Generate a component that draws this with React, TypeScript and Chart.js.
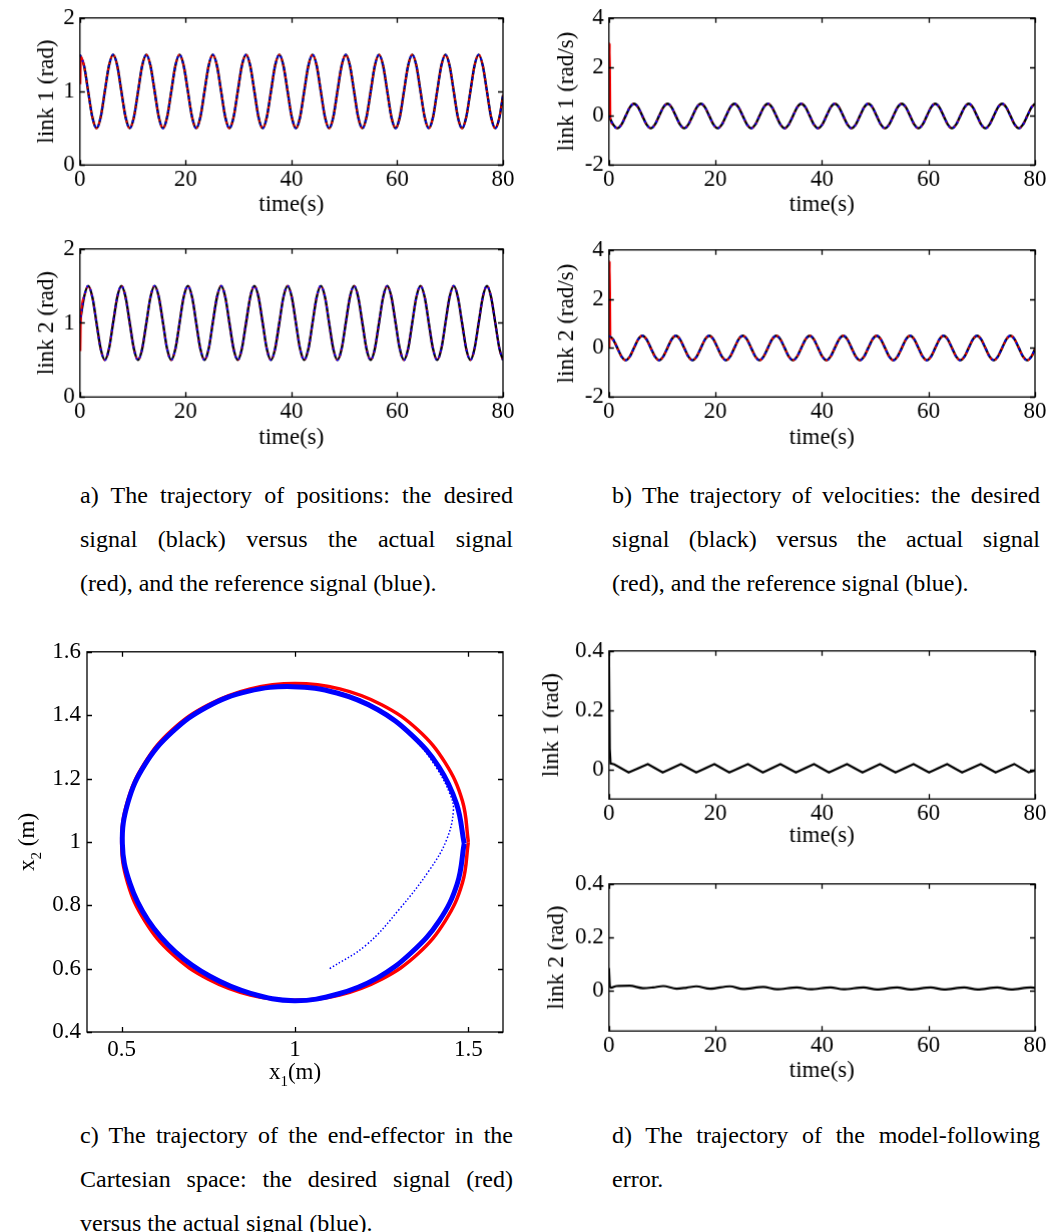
import React, { useEffect, useRef } from "react";
import { Chart, registerables } from "chart.js";

Chart.register(...registerables);

const FONT = '"Liberation Serif", "Times New Roman", Times, serif';
const FS = 23;
const LH = FS * 1.2;

// ---------- time-domain data (s) ----------
const tGrid = [
  0, 0.79, 1.57, 2.36, 3.14, 3.93, 4.71, 5.5,
  6.28, 7.07, 7.85, 8.64, 9.42, 10.21, 11.0, 11.78,
  12.57, 13.35, 14.14, 14.92, 15.71, 16.49, 17.28, 18.06,
  18.85, 19.63, 20.42, 21.21, 21.99, 22.78, 23.56, 24.35,
  25.13, 25.92, 26.7, 27.49, 28.27, 29.06, 29.85, 30.63,
  31.42, 32.2, 32.99, 33.77, 34.56, 35.34, 36.13, 36.91,
  37.7, 38.48, 39.27, 40.06, 40.84, 41.63, 42.41, 43.2,
  43.98, 44.77, 45.55, 46.34, 47.12, 47.91, 48.69, 49.48,
  50.27, 51.05, 51.84, 52.62, 53.41, 54.19, 54.98, 55.76,
  56.55, 57.33, 58.12, 58.9, 59.69, 60.48, 61.26, 62.05,
  62.83, 63.62, 64.4, 65.19, 65.97, 66.76, 67.54, 68.33,
  69.12, 69.9, 70.69, 71.47, 72.26, 73.04, 73.83, 74.61,
  75.4, 76.18, 76.97, 77.75, 78.54, 79.33, 80,
];

// link 1 position (rad)
const q1Desired = [
  1.5, 1.35, 1, 0.65, 0.5, 0.65, 1, 1.35,
  1.5, 1.35, 1, 0.65, 0.5, 0.65, 1, 1.35,
  1.5, 1.35, 1, 0.65, 0.5, 0.65, 1, 1.35,
  1.5, 1.35, 1, 0.65, 0.5, 0.65, 1, 1.35,
  1.5, 1.35, 1, 0.65, 0.5, 0.65, 1, 1.35,
  1.5, 1.35, 1, 0.65, 0.5, 0.65, 1, 1.35,
  1.5, 1.35, 1, 0.65, 0.5, 0.65, 1, 1.35,
  1.5, 1.35, 1, 0.65, 0.5, 0.65, 1, 1.35,
  1.5, 1.35, 1, 0.65, 0.5, 0.65, 1, 1.35,
  1.5, 1.35, 1, 0.65, 0.5, 0.65, 1, 1.35,
  1.5, 1.35, 1, 0.65, 0.5, 0.65, 1, 1.35,
  1.5, 1.35, 1, 0.65, 0.5, 0.65, 1, 1.35,
  1.5, 1.35, 1, 0.65, 0.5, 0.65, 0.95,
];
// link 2 position (rad)
const q2Desired = [
  1, 1.35, 1.5, 1.35, 1, 0.65, 0.5, 0.65,
  1, 1.35, 1.5, 1.35, 1, 0.65, 0.5, 0.65,
  1, 1.35, 1.5, 1.35, 1, 0.65, 0.5, 0.65,
  1, 1.35, 1.5, 1.35, 1, 0.65, 0.5, 0.65,
  1, 1.35, 1.5, 1.35, 1, 0.65, 0.5, 0.65,
  1, 1.35, 1.5, 1.35, 1, 0.65, 0.5, 0.65,
  1, 1.35, 1.5, 1.35, 1, 0.65, 0.5, 0.65,
  1, 1.35, 1.5, 1.35, 1, 0.65, 0.5, 0.65,
  1, 1.35, 1.5, 1.35, 1, 0.65, 0.5, 0.65,
  1, 1.35, 1.5, 1.35, 1, 0.65, 0.5, 0.65,
  1, 1.35, 1.5, 1.35, 1, 0.65, 0.5, 0.65,
  1, 1.35, 1.5, 1.35, 1, 0.65, 0.5, 0.65,
  1, 1.35, 1.5, 1.35, 1, 0.65, 0.5,
];
// link 1 velocity (rad/s)
const dq1Desired = [
  0, -0.35, -0.5, -0.35, 0, 0.35, 0.5, 0.35,
  0, -0.35, -0.5, -0.35, 0, 0.35, 0.5, 0.35,
  0, -0.35, -0.5, -0.35, 0, 0.35, 0.5, 0.35,
  0, -0.35, -0.5, -0.35, 0, 0.35, 0.5, 0.35,
  0, -0.35, -0.5, -0.35, 0, 0.35, 0.5, 0.35,
  0, -0.35, -0.5, -0.35, 0, 0.35, 0.5, 0.35,
  0, -0.35, -0.5, -0.35, 0, 0.35, 0.5, 0.35,
  0, -0.35, -0.5, -0.35, 0, 0.35, 0.5, 0.35,
  0, -0.35, -0.5, -0.35, 0, 0.35, 0.5, 0.35,
  0, -0.35, -0.5, -0.35, 0, 0.35, 0.5, 0.35,
  0, -0.35, -0.5, -0.35, 0, 0.35, 0.5, 0.35,
  0, -0.35, -0.5, -0.35, 0, 0.35, 0.5, 0.35,
  0, -0.35, -0.5, -0.35, 0, 0.35, 0.5,
];
// link 2 velocity (rad/s)
const dq2Desired = [
  0.5, 0.35, 0, -0.35, -0.5, -0.35, 0, 0.35,
  0.5, 0.35, 0, -0.35, -0.5, -0.35, 0, 0.35,
  0.5, 0.35, 0, -0.35, -0.5, -0.35, 0, 0.35,
  0.5, 0.35, 0, -0.35, -0.5, -0.35, 0, 0.35,
  0.5, 0.35, 0, -0.35, -0.5, -0.35, 0, 0.35,
  0.5, 0.35, 0, -0.35, -0.5, -0.35, 0, 0.35,
  0.5, 0.35, 0, -0.35, -0.5, -0.35, 0, 0.35,
  0.5, 0.35, 0, -0.35, -0.5, -0.35, 0, 0.35,
  0.5, 0.35, 0, -0.35, -0.5, -0.35, 0, 0.35,
  0.5, 0.35, 0, -0.35, -0.5, -0.35, 0, 0.35,
  0.5, 0.35, 0, -0.35, -0.5, -0.35, 0, 0.35,
  0.5, 0.35, 0, -0.35, -0.5, -0.35, 0, 0.35,
  0.5, 0.35, 0, -0.35, -0.5, -0.35, -0.05,
];

// start-up transients of the actual (red) signals
const q1StartT = [0.1, 0.2];
const q1StartV = [1.1, 1.47];
const q2StartT = [0.1, 0.2];
const q2StartV = [0.62, 1.08];
const dq1StartT = [0.12, 0.16, 0.3];
const dq1StartV = [0, 2.98, -0.15];
const dq2StartT = [0.12, 0.16, 0.3];
const dq2StartV = [0, 3.55, 0.5];
const SPIKE_END = 0.3;

// model-following error (rad)
const e1T = [
  0, 0.15, 0.3, 1.0, 3.7, 7.3, 10.1, 13.5, 16.4, 19.8,
  22.6, 26.1, 28.9, 32.2, 35.1, 38.5, 41.3, 44.7, 47.6, 50.9,
  53.8, 57.2, 60.1, 63.5, 66.3, 69.8, 72.6, 76.1, 78.8, 80,
];
const e1V = [
  0.4, 0.07, 0.02, 0.017, -0.01, 0.018, -0.01, 0.018, -0.01, 0.018,
  -0.01, 0.018, -0.01, 0.018, -0.01, 0.018, -0.01, 0.018, -0.01, 0.018,
  -0.01, 0.018, -0.01, 0.018, -0.01, 0.018, -0.01, 0.018, -0.01, -0.004,
];
const e2T = [
  0, 0.2, 0.4, 1.4, 3.9, 6.4, 8.3, 10.2, 12.7, 14.6,
  16.4, 19.0, 22.7, 25.2, 29.0, 31.5, 35.3, 37.8, 41.6, 44.0,
  47.8, 50.3, 54.1, 56.6, 60.4, 62.9, 66.7, 69.2, 72.9, 75.5,
  79.2, 80,
];
const e2V = [
  0.085, 0.015, 0.012, 0.018, 0.019, 0.01, 0.013, 0.018, 0.008, 0.012,
  0.017, 0.008, 0.017, 0.007, 0.015, 0.006, 0.013, 0.006, 0.013, 0.006,
  0.013, 0.005, 0.013, 0.005, 0.013, 0.005, 0.013, 0.005, 0.013, 0.005,
  0.013, 0.011,
];

// ---------- Cartesian end-effector path (m) ----------
const circleDesiredX = [
  1.5, 1.483, 1.433, 1.354, 1.25, 1.129, 1.0, 0.871, 0.75, 0.646, 0.567, 0.517, 0.5,
  0.517, 0.567, 0.646, 0.75, 0.871, 1.0, 1.129, 1.25, 1.354, 1.433, 1.483, 1.5,
];
const circleDesiredY = [
  1.0, 1.129, 1.25, 1.354, 1.433, 1.483, 1.5, 1.483, 1.433, 1.354, 1.25, 1.129, 1.0,
  0.871, 0.75, 0.646, 0.567, 0.517, 0.5, 0.517, 0.567, 0.646, 0.75, 0.871, 1.0,
];
const circleActualX = [
  1.488, 1.466, 1.415, 1.336, 1.238, 1.121, 0.993, 0.864, 0.746, 0.645, 0.567, 0.518, 0.502,
  0.524, 0.576, 0.655, 0.756, 0.872, 0.998, 1.124, 1.238, 1.336, 1.416, 1.468, 1.488,
];
const circleActualY = [
  0.995, 1.12, 1.237, 1.338, 1.418, 1.47, 1.49, 1.475, 1.426, 1.346, 1.244, 1.124, 0.995,
  0.869, 0.753, 0.653, 0.575, 0.522, 0.499, 0.52, 0.571, 0.651, 0.751, 0.868, 0.995,
];
const approachX = [1.1, 1.206, 1.302, 1.389, 1.437, 1.457, 1.447, 1.408, 1.35, 1.254, 1.158, 1.062, 0.995];
const approachY = [0.6, 0.675, 0.789, 0.913, 1.006, 1.1, 1.151, 1.234, 1.317, 1.41, 1.462, 1.483, 1.488];

// ---------- tick labels ----------
const timeTicks = [0, 20, 40, 60, 80];
const posTicks = [0, 1, 2];
const velTicks = [-2, 0, 2, 4];
const errTicks = [0, 0.2, 0.4];
const cartXTicks = [0.5, 1, 1.5];
const cartYTicks = [0.4, 0.6, 0.8, 1, 1.2, 1.4, 1.6];

type Pt = { x: number; y: number };
const zip = (xs: number[], ys: number[]): Pt[] => xs.map((x, i) => ({ x, y: ys[i] }));
const withStart = (st: number[], sv: number[], base: Pt[]): Pt[] => {
  const last = st[st.length - 1];
  return [...zip(st, sv), ...base.filter((p) => p.x > last)];
};

// boxed axes with inward tick marks on all four sides
const boxPlugin = {
  id: "boxAxes",
  afterDatasetsDraw(chart: any) {
    const { ctx, chartArea: a, scales } = chart;
    const len = 5;
    ctx.save();
    ctx.strokeStyle = "#000";
    ctx.lineWidth = 1.3;
    ctx.strokeRect(a.left, a.top, a.right - a.left, a.bottom - a.top);
    ctx.beginPath();
    scales.x.ticks.forEach((t: any) => {
      const px = Math.round(scales.x.getPixelForValue(t.value)) + 0.5;
      ctx.moveTo(px, a.bottom);
      ctx.lineTo(px, a.bottom - len);
      ctx.moveTo(px, a.top);
      ctx.lineTo(px, a.top + len);
    });
    scales.y.ticks.forEach((t: any) => {
      const py = Math.round(scales.y.getPixelForValue(t.value)) + 0.5;
      ctx.moveTo(a.left, py);
      ctx.lineTo(a.left + len, py);
      ctx.moveTo(a.right, py);
      ctx.lineTo(a.right - len, py);
    });
    ctx.stroke();
    ctx.restore();
  },
};

// axis titles with a subscript index, e.g. x1(m)
const subTitlePlugin = (xParts: string[], yParts: string[], xGap: number, yGap: number) => ({
  id: "subTitles",
  afterDraw(chart: any) {
    const { ctx, chartArea: a } = chart;
    const big = `${FS}px ${FONT}`;
    const small = `15px ${FONT}`;
    const draw = (parts: string[], cx: number, cy: number, rot: number) => {
      ctx.save();
      ctx.translate(cx, cy);
      ctx.rotate(rot);
      ctx.fillStyle = "#000";
      ctx.textAlign = "left";
      ctx.textBaseline = "alphabetic";
      ctx.font = big;
      const w0 = ctx.measureText(parts[0]).width;
      const w2 = ctx.measureText(parts[2]).width;
      ctx.font = small;
      const w1 = ctx.measureText(parts[1]).width;
      let x = -(w0 + w1 + w2) / 2;
      ctx.font = big;
      ctx.fillText(parts[0], x, 6);
      x += w0;
      ctx.font = small;
      ctx.fillText(parts[1], x, 13);
      x += w1;
      ctx.font = big;
      ctx.fillText(parts[2], x, 6);
      ctx.restore();
    };
    draw(xParts, (a.left + a.right) / 2, a.bottom + xGap, 0);
    draw(yParts, a.left - yGap, (a.top + a.bottom) / 2, -Math.PI / 2);
  },
});

function axis(min: number, max: number, ticks: number[], title: string | null, size: number, horizontal: boolean, pad: number) {
  return {
    type: "linear",
    min,
    max,
    afterBuildTicks: (s: any) => {
      s.ticks = ticks.map((v) => ({ value: v }));
    },
    afterFit: (s: any) => {
      if (horizontal) s.height = size;
      else s.width = size;
    },
    grid: { display: false, drawTicks: false },
    border: { display: false },
    ticks: {
      font: { family: FONT, size: FS },
      color: "#000",
      padding: pad,
      maxRotation: 0,
      autoSkip: false,
      callback: (v: any) => String(v),
    },
    title: title
      ? { display: true, text: title, font: { family: FONT, size: FS }, color: "#000", padding: 0 }
      : { display: false },
  };
}

interface Geo {
  L: number; T: number; R: number; B: number;
  yTitleX?: number; xTitleY?: number; ml?: number; mb?: number;
}
const MT = 14;
const MR = 20;

function frame(g: Geo) {
  const ml = g.ml ?? g.L - (g.yTitleX! - LH / 2);
  const mb = g.mb ?? g.xTitleY! - g.B + LH / 2;
  return {
    left: g.L - ml,
    top: g.T - MT,
    width: g.R - g.L + ml + MR,
    height: g.B - g.T + MT + mb,
    ml,
    mb,
  };
}

function ChartBox({ geo, build }: { geo: Geo; build: (ml: number, mb: number) => any }) {
  const ref = useRef<HTMLCanvasElement | null>(null);
  const f = frame(geo);
  useEffect(() => {
    if (!ref.current) return;
    const cfg = build(f.ml, f.mb);
    cfg.options = {
      ...cfg.options,
      animation: false,
      responsive: false,
      maintainAspectRatio: false,
      devicePixelRatio: 1,
      layout: { padding: { left: 0, top: MT, right: MR, bottom: 0 }, autoPadding: false },
      plugins: { legend: { display: false }, tooltip: { enabled: false } },
      elements: { point: { radius: 0 } },
    };
    const chart = new Chart(ref.current, cfg);
    return () => chart.destroy();
  }, []);
  return (
    <canvas
      ref={ref}
      width={f.width}
      height={f.height}
      style={{ position: "absolute", left: f.left, top: f.top, width: f.width, height: f.height, display: "block" }}
    />
  );
}

function trackConfig(desired: Pt[], actual: Pt[], yMin: number, yMax: number, yTicks: number[], yTitle: string) {
  return (ml: number, mb: number) => ({
    type: "line",
    data: {
      datasets: [
        // reference signal (blue)
        { data: desired, borderColor: "#0000ff", borderWidth: 2, borderDash: [2, 4], borderDashOffset: 0, cubicInterpolationMode: "monotone", fill: false },
        // actual signal (red, dotted; solid during the start-up spike)
        {
          data: actual, borderColor: "#ff0000", borderWidth: 2, borderDash: [2, 4], borderDashOffset: 3,
          cubicInterpolationMode: "monotone", fill: false,
          segment: { borderDash: (c: any) => (c.p0.parsed.x < SPIKE_END ? [] : undefined) },
        },
        // desired signal (black, solid)
        { data: desired, borderColor: "#000000", borderWidth: 2.4, cubicInterpolationMode: "monotone", fill: false },
      ],
    },
    options: {
      scales: {
        x: axis(0, 80, timeTicks, "time(s)", mb, true, 1),
        y: axis(yMin, yMax, yTicks, yTitle, ml, false, 5),
      },
    },
    plugins: [boxPlugin],
  });
}

function errorConfig(data: Pt[], yMin: number, yTitle: string, tension: number, mode: string) {
  return (ml: number, mb: number) => ({
    type: "line",
    data: {
      datasets: [{ data, borderColor: "#000000", borderWidth: 2.2, tension, cubicInterpolationMode: mode, fill: false }],
    },
    options: {
      scales: {
        x: axis(0, 80, timeTicks, "time(s)", mb, true, 1),
        y: axis(yMin, 0.4, errTicks, yTitle, ml, false, 5),
      },
    },
    plugins: [boxPlugin],
  });
}

function cartesianConfig() {
  return (ml: number, mb: number) => ({
    type: "scatter",
    data: {
      datasets: [
        { data: zip(approachX, approachY), showLine: true, borderColor: "#0000ff", borderWidth: 1.5, borderDash: [1.5, 2], tension: 0.4, fill: false },
        { data: zip(circleActualX, circleActualY), showLine: true, borderColor: "#0000ff", borderWidth: 5, tension: 0.4, fill: false },
        { data: zip(circleDesiredX, circleDesiredY), showLine: true, borderColor: "#ff0000", borderWidth: 3.5, tension: 0.4, fill: false },
      ],
    },
    options: {
      scales: {
        x: axis(0.4, 1.6, cartXTicks, null, mb, true, 4),
        y: axis(0.4, 1.6, cartYTicks, null, ml, false, 6),
      },
    },
    plugins: [boxPlugin, subTitlePlugin(["x", "1", "(m)"], ["x", "2", " (m)"], 41, 59)],
  });
}

function Caption({ left, top, width, lines }: { left: number; top: number; width: number; lines: string[] }) {
  return (
    <div
      style={{
        position: "absolute",
        left,
        top,
        width,
        fontFamily: FONT,
        fontSize: 24,
        lineHeight: "44px",
        color: "#000",
      }}
    >
      {lines.map((ln, i) => {
        const just = i < lines.length - 1;
        return (
          <div key={i} style={{ textAlign: just ? "justify" : "left", textAlignLast: just ? "justify" : "left" } as any}>
            {ln}
          </div>
        );
      })}
    </div>
  );
}

const q1D = zip(tGrid, q1Desired);
const q2D = zip(tGrid, q2Desired);
const dq1D = zip(tGrid, dq1Desired);
const dq2D = zip(tGrid, dq2Desired);

export default function App() {
  return (
    <div style={{ position: "absolute", left: 0, top: 0, width: 1058, height: 1232, background: "#fff", overflow: "hidden" }}>
      <ChartBox geo={{ L: 80, T: 13, R: 503, B: 165, yTitleX: 47, xTitleY: 205 }}
        build={trackConfig(q1D, withStart(q1StartT, q1StartV, q1D), 0, 2, posTicks, "link 1 (rad)")} />
      <ChartBox geo={{ L: 80, T: 244, R: 503, B: 397, yTitleX: 47, xTitleY: 438 }}
        build={trackConfig(q2D, withStart(q2StartT, q2StartV, q2D), 0, 2, posTicks, "link 2 (rad)")} />
      <ChartBox geo={{ L: 609, T: 13, R: 1035, B: 165, yTitleX: 567, xTitleY: 205 }}
        build={trackConfig(dq1D, withStart(dq1StartT, dq1StartV, dq1D), -2, 4, velTicks, "link 1 (rad/s)")} />
      <ChartBox geo={{ L: 609, T: 245, R: 1035, B: 397, yTitleX: 567, xTitleY: 438 }}
        build={trackConfig(dq2D, withStart(dq2StartT, dq2StartV, dq2D), -2, 4, velTicks, "link 2 (rad/s)")} />
      <ChartBox geo={{ L: 87, T: 646, R: 503, B: 1032, ml: 87, mb: 72 }} build={cartesianConfig()} />
      <ChartBox geo={{ L: 609, T: 646, R: 1035, B: 799, yTitleX: 552, xTitleY: 836 }}
        build={errorConfig(zip(e1T, e1V), -0.1, "link 1 (rad)", 0, "default")} />
      <ChartBox geo={{ L: 609, T: 879, R: 1035, B: 1031, yTitleX: 557, xTitleY: 1071 }}
        build={errorConfig(zip(e2T, e2V), -0.15, "link 2 (rad)", 0, "monotone")} />

      <Caption left={80} top={473} width={433} lines={[
        "a) The trajectory of positions: the desired",
        "signal (black) versus the actual signal",
        "(red), and the reference signal (blue).",
      ]} />
      <Caption left={612} top={473} width={428} lines={[
        "b) The trajectory of velocities: the desired",
        "signal (black) versus the actual signal",
        "(red), and the reference signal (blue).",
      ]} />
      <Caption left={80} top={1113} width={433} lines={[
        "c) The trajectory of the end-effector in the",
        "Cartesian space: the desired signal (red)",
        "versus the actual signal (blue).",
      ]} />
      <Caption left={612} top={1113} width={428} lines={[
        "d) The trajectory of the model-following",
        "error.",
      ]} />
    </div>
  );
}
